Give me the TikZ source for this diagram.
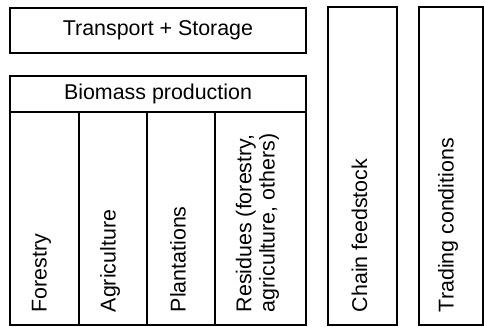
\documentclass[tikz,border=0pt]{standalone}
\usepackage{fontspec}
\setmainfont{Liberation Sans}
\tikzset{
  box/.style={draw, line width=0.6pt, inner sep=0pt},
  lbl/.style={rotate=90, anchor=west, inner sep=0pt, align=left,
    font=\fontsize{10.7}{11.6}\selectfont},
}
\begin{document}
\begin{tikzpicture}[x=0.5pt, y=-0.5pt, font=\fontsize{10.7}{11.6}\selectfont]
  \useasboundingbox (0,0) rectangle (484,327);
  \begin{scope}
    % top boxes
    \node[box, minimum width=148pt, minimum height=22.5pt] (transport) at (158,30.5) {Transport + Storage};
    \node[box, minimum width=148pt, minimum height=18pt] (biomass) at (158,94) {Biomass production};

    % biomass columns
    \node[box, minimum width=34.5pt, minimum height=106.5pt] (forestry) at (44.5,218.5) {};
    \node[box, minimum width=34pt, minimum height=106.5pt] (agri) at (113,218.5) {};
    \node[box, minimum width=34pt, minimum height=106.5pt] (plant) at (181,218.5) {};
    \node[box, minimum width=45.5pt, minimum height=106.5pt] (resid) at (260.5,218.5) {};

    % side boxes
    \node[box, minimum width=34.5pt, minimum height=159pt] (chain) at (362.5,166) {};
    \node[box, minimum width=32pt, minimum height=159pt] (trading) at (451,166) {};

    \node[lbl] (forestryT) at ([xshift=-1.5pt, yshift=6.5pt]forestry.south) {Forestry};
    \node[lbl] (agriT) at ([xshift=-1.5pt, yshift=6.5pt]agri.south) {Agriculture};
    \node[lbl] (plantT) at ([xshift=-1.5pt, yshift=6.5pt]plant.south) {Plantations};
    \node[lbl] (residT) at ([xshift=-1.5pt, yshift=6.5pt]resid.south) {Residues (forestry,\\agriculture, others)};
    \node[lbl] (chainT) at ([xshift=-1.5pt, yshift=6.5pt]chain.south) {Chain feedstock};
    \node[lbl] (tradingT) at ([xshift=-1.5pt, yshift=6.5pt]trading.south) {Trading conditions};
  \end{scope}
\end{tikzpicture}
\end{document}
